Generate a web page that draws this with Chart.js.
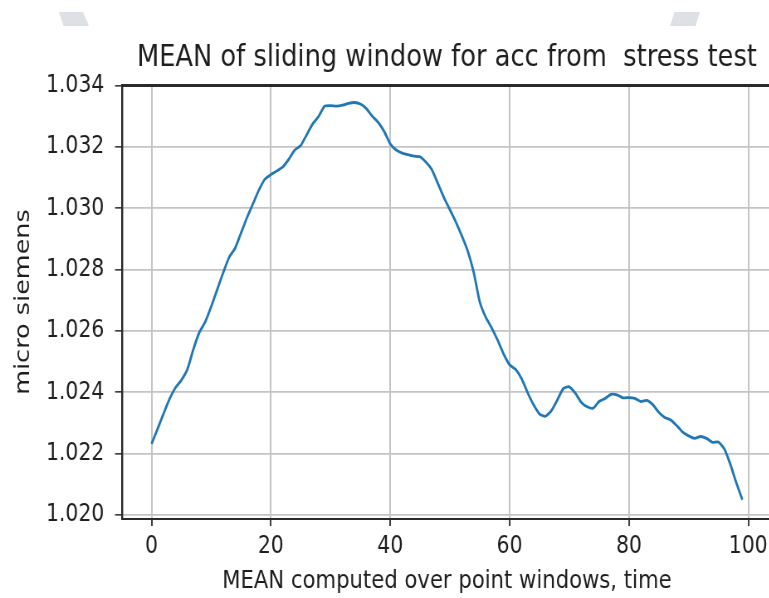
<!DOCTYPE html>
<html>
<head>
<meta charset="utf-8">
<script src="https://cdn.jsdelivr.net/npm/chart.js@4/dist/chart.umd.min.js"></script>
<style>
  html, body { margin: 0; padding: 0; background: #fff; overflow: hidden; }
  #wrap { position: relative; width: 769px; height: 598px; overflow: hidden; }
  /* the reference picture is squeezed sideways, so the canvas is too */
  #chart { position: absolute; left: 0; top: 0; transform: scaleX(0.83); transform-origin: 0 0; }
  .mark { position: absolute; background: #dde1e6; width: 30px; height: 14px; top: 12px; }
  #markLeft { left: 59px; clip-path: polygon(0 0, 80% 0, 100% 100%, 15% 100%); }
  #markRight { left: 670px; clip-path: polygon(15% 0, 100% 0, 85% 100%, 0 100%); }
</style>
</head>
<body>
<div id="wrap">
  <div class="mark" id="markLeft"></div>
  <div class="mark" id="markRight"></div>
  <canvas id="chart" width="940" height="598"></canvas>
</div>
<script>
const chartTitle = "MEAN of sliding window for acc from  stress test"
const xTitle = "MEAN computed over point windows, time"
const yTitle = "micro siemens"

const xTickValues = [0, 20, 40, 60, 80, 100]
const yTickValues = [1.020, 1.022, 1.024, 1.026, 1.028, 1.030, 1.032, 1.034]

// sliding window mean, one value per window (window 0 .. 99)
const meanValues = [
  1.02232, 1.02280, 1.02330, 1.02378, 1.02415, 1.02440, 1.02475, 1.02540, 1.02595, 1.02630,
  1.02680, 1.02735, 1.02790, 1.02840, 1.02870, 1.02920, 1.02970, 1.03015, 1.03060, 1.03095,
  1.03110, 1.03122, 1.03135, 1.03160, 1.03190, 1.03205, 1.03240, 1.03275, 1.03300, 1.03333,
  1.03335, 1.03333, 1.03336, 1.03342, 1.03345, 1.03340, 1.03325, 1.03300, 1.03280, 1.03250,
  1.03210, 1.03190, 1.03180, 1.03175, 1.03170, 1.03168, 1.03150, 1.03125, 1.03080, 1.03035,
  1.02995, 1.02955, 1.02910, 1.02860, 1.02790, 1.02695, 1.02645, 1.02610, 1.02570, 1.02525,
  1.02490, 1.02475, 1.02445, 1.02400, 1.02360, 1.02330, 1.02322, 1.02340, 1.02375, 1.02412,
  1.02418, 1.02398, 1.02368, 1.02353, 1.02348, 1.02370, 1.02380, 1.02393, 1.02392, 1.02382,
  1.02383, 1.02380, 1.02370, 1.02374, 1.02360, 1.02335, 1.02318, 1.02310, 1.02292, 1.02270,
  1.02258, 1.02250, 1.02256, 1.02250, 1.02237, 1.02238, 1.02215, 1.02165, 1.02105, 1.02050
]

const xMin = -4.95
const xMax = 103.95
const yMin = 1.01987
const yMax = 1.03402

const fontFamily = "'DejaVu Sans', sans-serif"
const textColor = "#1e1e1e"
const gridColor = "#c4c4c4"
const axisColor = "#2a2a2a"

const points = meanValues.map((v, i) => ({ x: i, y: v }))

const ctx = document.querySelector("#chart")

const myChart = new Chart(ctx, {
    type: "line",
    data: {
        datasets: [
            {
                label: "mean",
                data: points,
                borderColor: "#1f77b4",
                borderWidth: 2.8,
                pointRadius: 0,
                tension: 0.2,
                fill: false
            }
        ]
    },
    options: {
        responsive: false,
        animation: false,
        devicePixelRatio: 1,
        layout: { padding: { left: 0, right: 10.1, top: 0, bottom: 0 } },
        plugins: {
            legend: { display: false },
            title: { display: false },
            tooltip: { enabled: false }
        },
        scales: {
            x: {
                type: "linear",
                position: "bottom",
                min: xMin,
                max: xMax,
                afterBuildTicks: (s) => { s.ticks = xTickValues.map((v) => ({ value: v })) },
                afterFit: (s) => { s.height = 79 },
                ticks: {
                    color: textColor,
                    font: { family: fontFamily, size: 24.5 },
                    padding: 6,
                    maxRotation: 0,
                    callback: (v) => String(v)
                },
                grid: {
                    color: gridColor,
                    lineWidth: 2,
                    tickColor: axisColor,
                    tickWidth: 1.8,
                    tickLength: 7
                },
                border: { color: axisColor, width: 2 },
                title: {
                    display: true,
                    text: xTitle,
                    color: textColor,
                    font: { family: fontFamily, size: 25.5 },
                    padding: { top: 0, bottom: 1.7 }
                }
            },
            xTop: {
                type: "linear",
                position: "top",
                min: xMin,
                max: xMax,
                afterFit: (s) => { s.height = 85 },
                ticks: { display: false },
                grid: { display: false, drawTicks: false },
                border: { color: axisColor, width: 3 },
                title: {
                    display: true,
                    text: chartTitle,
                    color: textColor,
                    font: { family: fontFamily, size: 31 },
                    padding: { top: 39.4, bottom: 0 }
                }
            },
            y: {
                type: "linear",
                min: yMin,
                max: yMax,
                afterBuildTicks: (s) => { s.ticks = yTickValues.map((v) => ({ value: v })) },
                afterFit: (s) => { s.width = 147 },
                ticks: {
                    color: textColor,
                    font: { family: fontFamily, size: 24.5 },
                    padding: 13,
                    callback: (v) => v.toFixed(3)
                },
                grid: {
                    color: gridColor,
                    lineWidth: 1.7,
                    tickColor: axisColor,
                    tickWidth: 1.5,
                    tickLength: 8.4
                },
                border: { color: axisColor, width: 2.4 },
                title: {
                    display: true,
                    text: yTitle,
                    color: textColor,
                    font: { family: fontFamily, size: 25.5 },
                    padding: { top: 13, bottom: 0 }
                }
            }
        }
    }
})
</script>
</body>
</html>
